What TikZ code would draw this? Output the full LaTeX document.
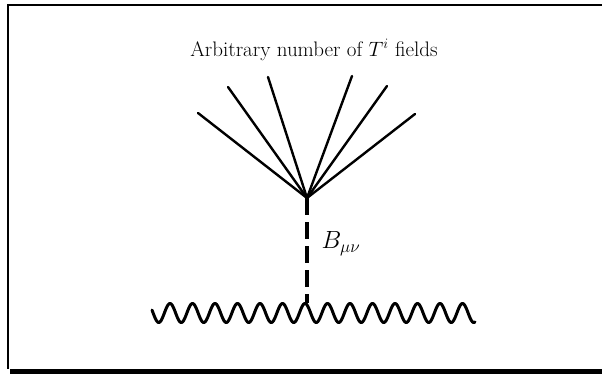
\documentclass[tikz,border=0pt]{standalone}
\begin{document}
\begin{tikzpicture}[x=1pt,y=-1pt,
  fan/.style={line width=2.4pt, line cap=round},
  prop/.style={line width=3.6pt, dash pattern=on 17pt off 7pt},
  wave/.style={line width=3pt, line cap=round, line join=round},
  frameline/.style={line width=1.6pt},
  lbl/.style={inner sep=0pt, font=\fontsize{21}{24}\selectfont}]
\useasboundingbox (0,0) rectangle (602,374);
% frame
\coordinate (tl) at (8,5);
\coordinate (tr) at (602,5);
\coordinate (bl) at (8,369);
\draw[frameline] (tr) -- (tl) -- (bl);
\fill (10,369) rectangle (602,374);
% title
\node[lbl] (title) at (314,50) {Arbitrary number of $T^i$ fields};
% vertex and fan
\coordinate (v) at (307,198);
\coordinate (e1) at (198,113);
\coordinate (e2) at (228,87);
\coordinate (e3) at (268,77);
\coordinate (e4) at (352,76);
\coordinate (e5) at (387,86);
\coordinate (e6) at (415,114);
\foreach \e in {e1,e2,e3,e4,e5,e6} \draw[fan] (v) -- (\e);
% propagator
\coordinate (j) at (307,303);
\draw[prop] (v) -- (j);
\node[lbl, font=\fontsize{23}{26}\selectfont] (B) at (341,244) {$B_{\mu\nu}$};
% wavy line
\draw[wave] plot[domain=152:475, samples=400, smooth] (\x, {313 - 9.5*cos(16*(\x-305))});
\end{tikzpicture}
\end{document}
